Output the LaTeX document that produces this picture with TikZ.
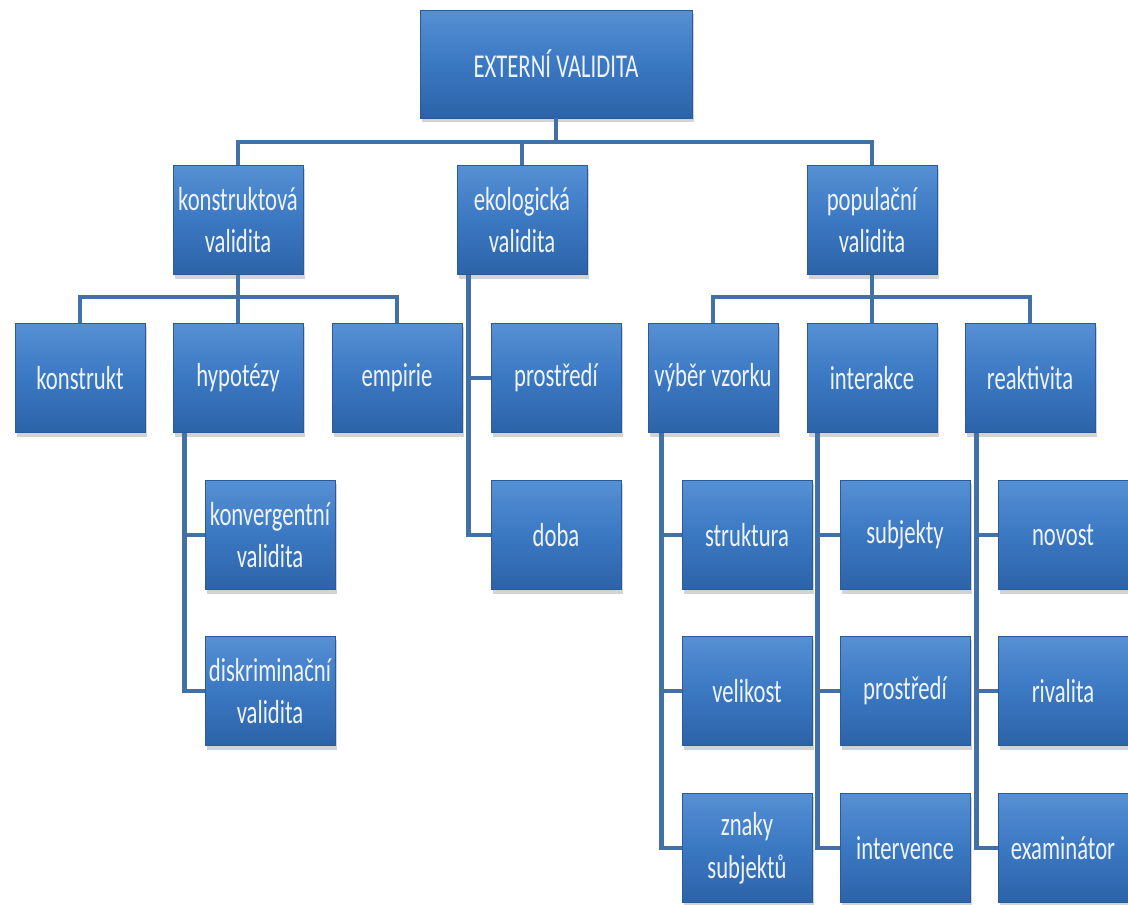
\documentclass[tikz,border=0pt]{standalone}
\usepackage{fontspec}
\setmainfont[FakeStretch=0.68]{Carlito}
\usetikzlibrary{shadows,calc}
\definecolor{boxtop}{HTML}{5690D4}
\definecolor{boxmid}{HTML}{3B78C2}
\definecolor{boxbot}{HTML}{2C63A8}
\definecolor{boxedge}{HTML}{2A5B98}
\definecolor{linecol}{HTML}{4271A8}
\definecolor{txtcol}{HTML}{EEF3FA}
\tikzset{
  bx/.style={rectangle, draw=boxedge, line width=0.6pt,
    top color=boxtop, bottom color=boxbot, middle color=boxmid,
    minimum width=97.5pt, minimum height=82pt, inner sep=0pt,
    align=center, text=txtcol,
    font=\fontsize{25}{32}\selectfont,
    drop shadow={opacity=0.35, shadow xshift=1.5pt, shadow yshift=-3pt}},
  conn/.style={draw=linecol, line width=3.2pt}
}
\begin{document}
\begin{tikzpicture}[x=0.75pt,y=-0.75pt]
\useasboundingbox (0,0) rectangle (1128,904);
\coordinate (b1) at (556,142);
\coordinate (b2) at (238,297);
\coordinate (b3) at (872,297);
% nodes
\node[bx, minimum width=204pt, minimum height=81pt] (top) at (556,64) {EXTERNÍ VALIDITA};
\node[bx] (kv) at (238,220) {konstruktová\\validita};
\node[bx] (ev) at (522,220) {ekologická\\validita};
\node[bx] (pv) at (872,220) {populační\\validita};
\node[bx] (kon) at (80,378) {konstrukt};
\node[bx] (hyp) at (238,378) {hypotézy};
\node[bx] (emp) at (397,378) {empirie};
\node[bx] (konv) at (270,535) {konvergentní\\validita};
\node[bx] (disk) at (270,691) {diskriminační\\validita};
\node[bx] (pro) at (556,378) {prostředí};
\node[bx] (doba) at (556,535) {doba};
\node[bx] (vyb) at (713,378) {výběr vzorku};
\node[bx] (int) at (872,378) {interakce};
\node[bx] (rea) at (1030,378) {reaktivita};
\node[bx] (str) at (747,535) {struktura};
\node[bx] (vel) at (747,691) {velikost};
\node[bx] (zna) at (747,848) {znaky\\subjektů};
\node[bx] (sub) at (905,535) {subjekty};
\node[bx] (pro2) at (905,691) {prostředí};
\node[bx] (intv) at (905,848) {intervence};
\node[bx] (nov) at (1063,535) {novost};
\node[bx] (riv) at (1063,691) {rivalita};
\node[bx] (exa) at (1063,848) {examinátor};
% connectors
\draw[conn] (top.south) -- (b1);
\draw[conn] (kv.north) |- (b1) -| (pv.north);
\draw[conn] (ev.north) -- (ev.north |- b1);
\draw[conn] (kv.south) -- (b2);
\draw[conn] (kon.north) |- (b2) -| (emp.north);
\draw[conn] (hyp.north) -- (b2);
\draw[conn] ($(hyp.south west)+(12,0)$) |- (konv.west);
\draw[conn] ($(hyp.south west)+(12,0)$) |- (disk.west);
\draw[conn] ($(ev.south west)+(12,0)$) |- (pro.west);
\draw[conn] ($(ev.south west)+(12,0)$) |- (doba.west);
\draw[conn] (pv.south) -- (b3);
\draw[conn] (vyb.north) |- (b3) -| (rea.north);
\draw[conn] (int.north) -- (b3);
\draw[conn] ($(vyb.south west)+(14,0)$) |- (str.west);
\draw[conn] ($(vyb.south west)+(14,0)$) |- (vel.west);
\draw[conn] ($(vyb.south west)+(14,0)$) |- (zna.west);
\draw[conn] ($(int.south west)+(11,0)$) |- (sub.west);
\draw[conn] ($(int.south west)+(11,0)$) |- (pro2.west);
\draw[conn] ($(int.south west)+(11,0)$) |- (intv.west);
\draw[conn] ($(rea.south west)+(12,0)$) |- (nov.west);
\draw[conn] ($(rea.south west)+(12,0)$) |- (riv.west);
\draw[conn] ($(rea.south west)+(12,0)$) |- (exa.west);
\end{tikzpicture}
\end{document}
